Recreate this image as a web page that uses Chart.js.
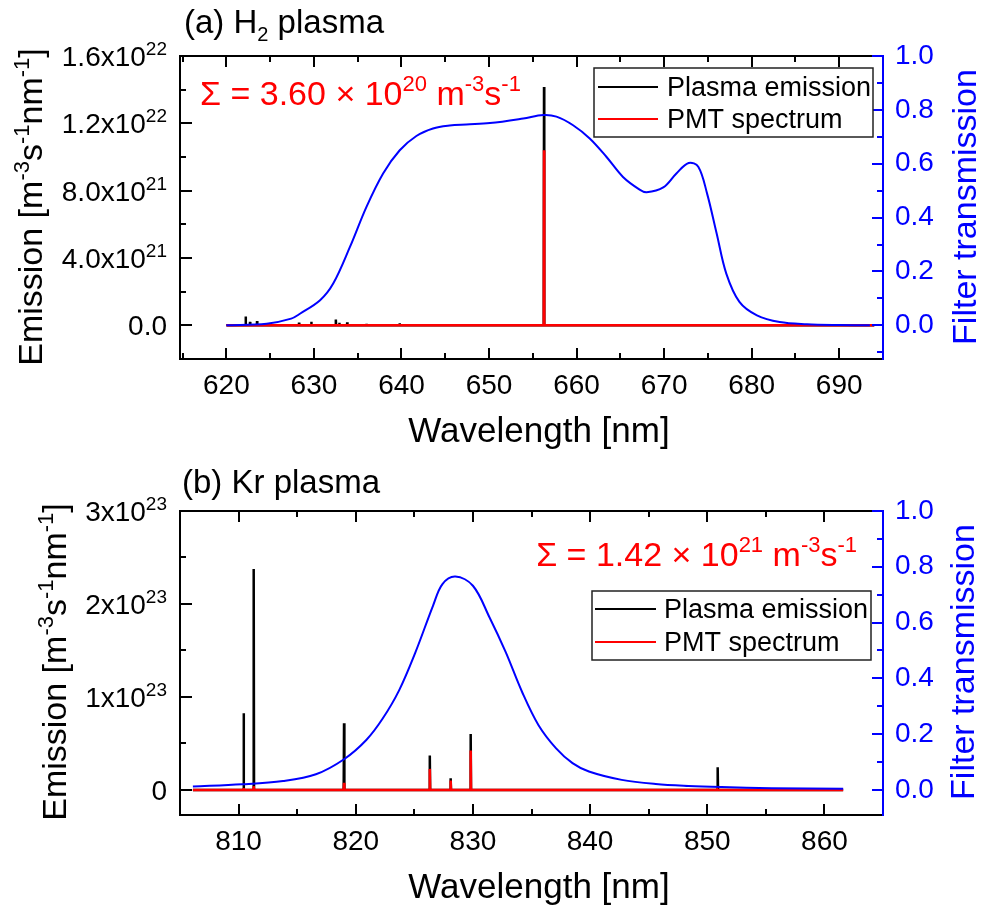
<!DOCTYPE html>
<html>
<head>
<meta charset="utf-8">
<title>Filter transmission and plasma emission</title>
<script src="https://cdn.jsdelivr.net/npm/chart.js@4.4.0/dist/chart.umd.min.js"></script>
<style>
  html, body { margin: 0; padding: 0; background: #fff; }
  #wrap { position: relative; width: 981px; height: 907px; }
  #wrap canvas { position: absolute; left: 0; }
  #h2Chart { top: 0; }
  #krChart { top: 453px; }
</style>
</head>
<body>
<div id="wrap">
  <canvas id="h2Chart" width="981" height="453"></canvas>
  <canvas id="krChart" width="981" height="454"></canvas>
</div>
<script>
const FONT = '"Liberation Sans", Arial, Helvetica, sans-serif';
const BLUE = '#0000ff';
const RED = '#ff0000';

// ---- (a) H2 plasma ----
const h2Range = [620.0, 694.0];
const h2FilterNm = [620.0, 624.6, 627.4, 628.4, 630.7, 632.2, 634.1, 636.0, 637.9, 639.8, 641.7, 643.6, 645.5, 647.4,
  650.1, 653.9, 656.2, 657.7, 659.6, 661.5, 663.4, 665.3, 667.2, 668.0, 669.9, 671.4, 672.8, 673.9, 674.9, 676.0,
  677.1, 678.6, 680.6, 683.2, 686.3, 690.0, 693.5];
const h2FilterT = [0.0, 0.006, 0.025, 0.043, 0.093, 0.155, 0.29, 0.44, 0.564, 0.65, 0.703, 0.731, 0.742, 0.746,
  0.751, 0.768, 0.781, 0.775, 0.743, 0.694, 0.626, 0.551, 0.504, 0.494, 0.512, 0.564, 0.603, 0.589, 0.49, 0.341,
  0.192, 0.087, 0.037, 0.012, 0.004, 0.001, 0.0];
const h2LineNm = [622.2, 622.7, 623.5, 628.3, 629.7, 632.5, 632.9, 633.8, 636.0, 639.8, 656.28];
const h2LinePeak = [5.3e20, 2.0e20, 2.6e20, 1.6e20, 2.2e20, 3.4e20, 1.6e20, 1.8e20, 1.0e20, 1.2e20, 1.416e22];
const h2PmtNm = [656.28];
const h2PmtPeak = [1.04e22];
const h2XTicks = [620, 630, 640, 650, 660, 670, 680, 690];
const h2YTicks = [0, 4e21, 8e21, 1.2e22, 1.6e22];
const h2YTickText = ['0.0', '4.0x10', '8.0x10', '1.2x10', '1.6x10'];
const h2YTickExp = ['', '21', '21', '22', '22'];

// ---- (b) Kr plasma ----
const krRange = [806.1, 861.6];
const krFilterNm = [806.1, 810.3, 813.8, 816.6, 819.0, 820.9, 822.3, 823.7, 825.1, 826.6, 827.4, 828.5, 830.0,
  831.4, 832.8, 834.2, 835.6, 837.1, 838.5, 839.9, 842.7, 845.6, 848.4, 851.2, 855.5, 861.6];
const krFilterT = [0.012, 0.02, 0.032, 0.056, 0.11, 0.179, 0.256, 0.357, 0.494, 0.661, 0.738, 0.765, 0.732,
  0.62, 0.494, 0.351, 0.232, 0.149, 0.096, 0.066, 0.036, 0.021, 0.014, 0.01, 0.006, 0.004];
const krLineNm = [810.43, 811.29, 819.0, 826.32, 828.1, 829.81, 850.89];
const krLinePeak = [0.825e23, 2.376e23, 0.717e23, 0.369e23, 0.125e23, 0.602e23, 0.244e23];
const krPmtNm = [810.43, 811.29, 819.0, 826.32, 828.1, 829.81, 850.89];
const krPmtPeak = [0.02e23, 0.04e23, 0.075e23, 0.226e23, 0.10e23, 0.423e23, 0.003e23];
const krXTicks = [810, 820, 830, 840, 850, 860];
const krYTicks = [0, 1e23, 2e23, 3e23];
const krYTickText = ['0', '1x10', '2x10', '3x10'];
const krYTickExp = ['', '23', '23', '23'];

const transTicks = [0, 0.2, 0.4, 0.6, 0.8, 1.0];
const seriesNames = ['Plasma emission', 'PMT spectrum', 'Filter transmission'];

// line spectrum: zero baseline over the range with a narrow spike at each line
function stickSpectrum(range, centers, peaks) {
  const hw = 0.03;
  const pts = [{ x: range[0], y: 0 }];
  centers.forEach((c, i) => {
    pts.push({ x: c - hw, y: 0 }, { x: c, y: peaks[i] }, { x: c + hw, y: 0 });
  });
  pts.push({ x: range[1], y: 0 });
  return pts;
}

function zipXY(xs, ys) {
  return xs.map((x, i) => ({ x, y: ys[i] }));
}

// tick positions between min and max; flags the ones that fall on a major step
function tickSteps(min, max, minor, major) {
  const out = [];
  const k0 = Math.ceil(min / minor - 1e-9), k1 = Math.floor(max / minor + 1e-9);
  for (let k = k0; k <= k1; k++) {
    const v = k * minor;
    const r = v / major;
    out.push([v, Math.abs(r - Math.round(r)) < 1e-6]);
  }
  return out;
}

// text made of runs: [text, size, baseline shift]
function drawRich(ctx, segs, x, y, align, color) {
  let w = 0;
  segs.forEach(s => { ctx.font = s[1] + 'px ' + FONT; w += ctx.measureText(s[0]).width; });
  let cx = align === 'right' ? x - w : align === 'center' ? x - w / 2 : x;
  ctx.fillStyle = color;
  ctx.textAlign = 'left';
  ctx.textBaseline = 'alphabetic';
  segs.forEach(s => {
    ctx.font = s[1] + 'px ' + FONT;
    ctx.fillText(s[0], cx, y + (s[2] || 0));
    cx += ctx.measureText(s[0]).width;
  });
}

function drawRotated(ctx, segs, x, y, color) {
  ctx.save();
  ctx.translate(x, y);
  ctx.rotate(-Math.PI / 2);
  drawRich(ctx, segs, 0, 0, 'center', color);
  ctx.restore();
}

const emissionUnit = [['Emission [m', 34], ['-3', 22, -13], ['s', 34], ['-1', 22, -13], ['nm', 34], ['-1', 22, -13], [']', 34]];

function decorPlugin(p) {
  return {
    id: 'decor',
    afterDatasetsDraw(chart) {
      const { ctx, chartArea: a, scales: { x, y, y1 } } = chart;
      ctx.save();
      ctx.lineCap = 'butt';
      ctx.lineWidth = 2;
      ctx.strokeStyle = '#000';
      ctx.beginPath();
      ctx.moveTo(a.right, a.top); ctx.lineTo(a.left, a.top);
      ctx.lineTo(a.left, a.bottom); ctx.lineTo(a.right, a.bottom);
      tickSteps(x.min, x.max, p.xMinor, p.xMajor).forEach(([v, major]) => {
        const px = Math.round(x.getPixelForValue(v));
        if (px < a.left + 3 || px > a.right - 3) return;
        const len = major ? 11 : 6;
        ctx.moveTo(px, a.bottom); ctx.lineTo(px, a.bottom - len);
        ctx.moveTo(px, a.top); ctx.lineTo(px, a.top + len);
      });
      tickSteps(y.min, y.max, p.yMinor, p.yMajor).forEach(([v, major]) => {
        const py = Math.round(y.getPixelForValue(v));
        ctx.moveTo(a.left, py); ctx.lineTo(a.left + (major ? 12 : 6), py);
      });
      ctx.stroke();

      ctx.strokeStyle = BLUE;
      ctx.beginPath();
      ctx.moveTo(a.right, a.top - 1); ctx.lineTo(a.right, a.bottom + 1);
      tickSteps(y1.min, y1.max, 0.1, 0.2).forEach(([v, major]) => {
        const py = Math.round(y1.getPixelForValue(v));
        ctx.moveTo(a.right, py); ctx.lineTo(a.right - (major ? 11 : 6), py);
      });
      ctx.stroke();
      ctx.restore();
    },
    afterDraw(chart) {
      const { ctx, scales: { y } } = chart;
      ctx.save();
      // left tick labels with powers of ten
      p.yTicks.forEach((v, i) => {
        const py = y.getPixelForValue(v) + 10;
        const segs = [[p.yTickText[i], 28]];
        if (p.yTickExp[i]) segs.push([p.yTickExp[i], 19, -11]);
        drawRich(ctx, segs, 167, py, 'right', '#000');
      });
      // panel title
      drawRich(ctx, p.title, p.titlePos[0], p.titlePos[1], 'left', '#000');
      // axis titles
      drawRich(ctx, [['Wavelength [nm]', 35]], p.xTitlePos[0], p.xTitlePos[1], 'center', '#000');
      drawRotated(ctx, emissionUnit, p.yTitlePos[0], p.yTitlePos[1], '#000');
      drawRotated(ctx, [['Filter transmission', 34]], p.y1TitlePos[0], p.y1TitlePos[1], BLUE);
      // integrated signal
      drawRich(ctx, p.sum, p.sumPos[0], p.sumPos[1], p.sumAlign, RED);
      // legend
      const b = p.legendBox;
      ctx.fillStyle = '#fff';
      ctx.fillRect(b[0], b[1], b[2] - b[0], b[3] - b[1]);
      ctx.strokeStyle = '#222';
      ctx.lineWidth = 1.5;
      ctx.strokeRect(b[0], b[1], b[2] - b[0], b[3] - b[1]);
      [0, 1].forEach(i => {
        const ds = chart.data.datasets[i];
        const ly = p.legendRows[i];
        ctx.strokeStyle = ds.borderColor;
        ctx.lineWidth = 2;
        ctx.beginPath();
        ctx.moveTo(p.legendLine[0], ly); ctx.lineTo(p.legendLine[1], ly);
        ctx.stroke();
        drawRich(ctx, [[ds.label, 27]], p.legendLine[2], ly + 9, 'left', '#000');
      });
      ctx.restore();
    }
  };
}

function makeChart(id, p) {
  const ctx = document.getElementById(id).getContext('2d');
  return new Chart(ctx, {
    type: 'line',
    data: {
      datasets: [
        {
          label: seriesNames[0],
          data: stickSpectrum(p.range, p.lineNm, p.linePeak),
          borderColor: '#000',
          borderWidth: 2.5,
          pointRadius: 0,
          tension: 0,
          order: 2
        },
        {
          label: seriesNames[1],
          data: stickSpectrum(p.range, p.pmtNm, p.pmtPeak),
          borderColor: RED,
          borderWidth: 2.5,
          pointRadius: 0,
          tension: 0,
          order: 1
        },
        {
          label: seriesNames[2],
          data: zipXY(p.filterNm, p.filterT),
          borderColor: BLUE,
          borderWidth: 2,
          pointRadius: 0,
          tension: 0.35,
          yAxisID: 'y1',
          order: 0
        }
      ]
    },
    options: {
      responsive: false,
      animation: false,
      events: [],
      layout: { padding: { top: p.plotTop, left: 0, right: 0, bottom: 0 }, autoPadding: false },
      plugins: { legend: { display: false }, tooltip: { enabled: false } },
      scales: {
        x: {
          type: 'linear',
          min: p.xMin,
          max: p.xMax,
          grid: { display: false, drawTicks: false },
          border: { display: false },
          afterBuildTicks: s => { s.ticks = p.xTicks.map(v => ({ value: v })); },
          ticks: {
            padding: 10,
            color: '#000',
            font: { family: FONT, size: 28 }
          },
          afterFit: s => { s.height = p.xAxisHeight; }
        },
        y: {
          type: 'linear',
          position: 'left',
          min: p.yMin,
          max: p.yMax,
          grid: { display: false, drawTicks: false },
          border: { display: false },
          ticks: { display: false },
          afterFit: s => { s.width = 180; }
        },
        y1: {
          type: 'linear',
          position: 'right',
          min: p.y1Min,
          max: 1.0,
          grid: { display: false, drawTicks: false },
          border: { display: false },
          afterBuildTicks: s => { s.ticks = transTicks.map(v => ({ value: v })); },
          ticks: {
            padding: 12,
            color: BLUE,
            font: { family: FONT, size: 28 },
            callback: v => v.toFixed(1)
          },
          afterFit: s => { s.width = 98; }
        }
      }
    },
    plugins: [decorPlugin(p)]
  });
}

makeChart('h2Chart', {
  range: h2Range, filterNm: h2FilterNm, filterT: h2FilterT,
  lineNm: h2LineNm, linePeak: h2LinePeak, pmtNm: h2PmtNm, pmtPeak: h2PmtPeak,
  xTicks: h2XTicks, yTicks: h2YTicks, yTickText: h2YTickText, yTickExp: h2YTickExp,
  xMin: 614.7, xMax: 695, xMajor: 10, xMinor: 5,
  yMin: -2e21, yMax: 1.6e22, yMajor: 4e21, yMinor: 2e21,
  y1Min: -0.125,
  plotTop: 56, xAxisHeight: 94,
  title: [['(a) H', 33], ['2', 20, 8], [' plasma', 33]], titlePos: [184, 33],
  xTitlePos: [539, 442], yTitlePos: [42, 207], y1TitlePos: [976, 207],
  sum: [['\u03A3 = 3.60 \u00D7 10', 34], ['20', 22, -14], [' m', 34], ['-3', 22, -14], ['s', 34], ['-1', 22, -14]],
  sumPos: [200, 105], sumAlign: 'left',
  legendBox: [594, 68, 873, 137], legendRows: [87, 119], legendLine: [598, 658, 667]
});

makeChart('krChart', {
  range: krRange, filterNm: krFilterNm, filterT: krFilterT,
  lineNm: krLineNm, linePeak: krLinePeak, pmtNm: krPmtNm, pmtPeak: krPmtPeak,
  xTicks: krXTicks, yTicks: krYTicks, yTickText: krYTickText, yTickExp: krYTickExp,
  xMin: 805, xMax: 865, xMajor: 10, xMinor: 5,
  yMin: -0.27e23, yMax: 3e23, yMajor: 1e23, yMinor: 0.5e23,
  y1Min: -0.09,
  plotTop: 58, xAxisHeight: 92,
  title: [['(b) Kr plasma', 33]], titlePos: [182, 40],
  xTitlePos: [539, 445], yTitlePos: [66, 209], y1TitlePos: [974, 209],
  sum: [['\u03A3 = 1.42 \u00D7 10', 34], ['21', 22, -14], [' m', 34], ['-3', 22, -14], ['s', 34], ['-1', 22, -14]],
  sumPos: [857, 113], sumAlign: 'right',
  legendBox: [592, 138, 871, 207], legendRows: [156, 189], legendLine: [595, 656, 664]
});
</script>
</body>
</html>
